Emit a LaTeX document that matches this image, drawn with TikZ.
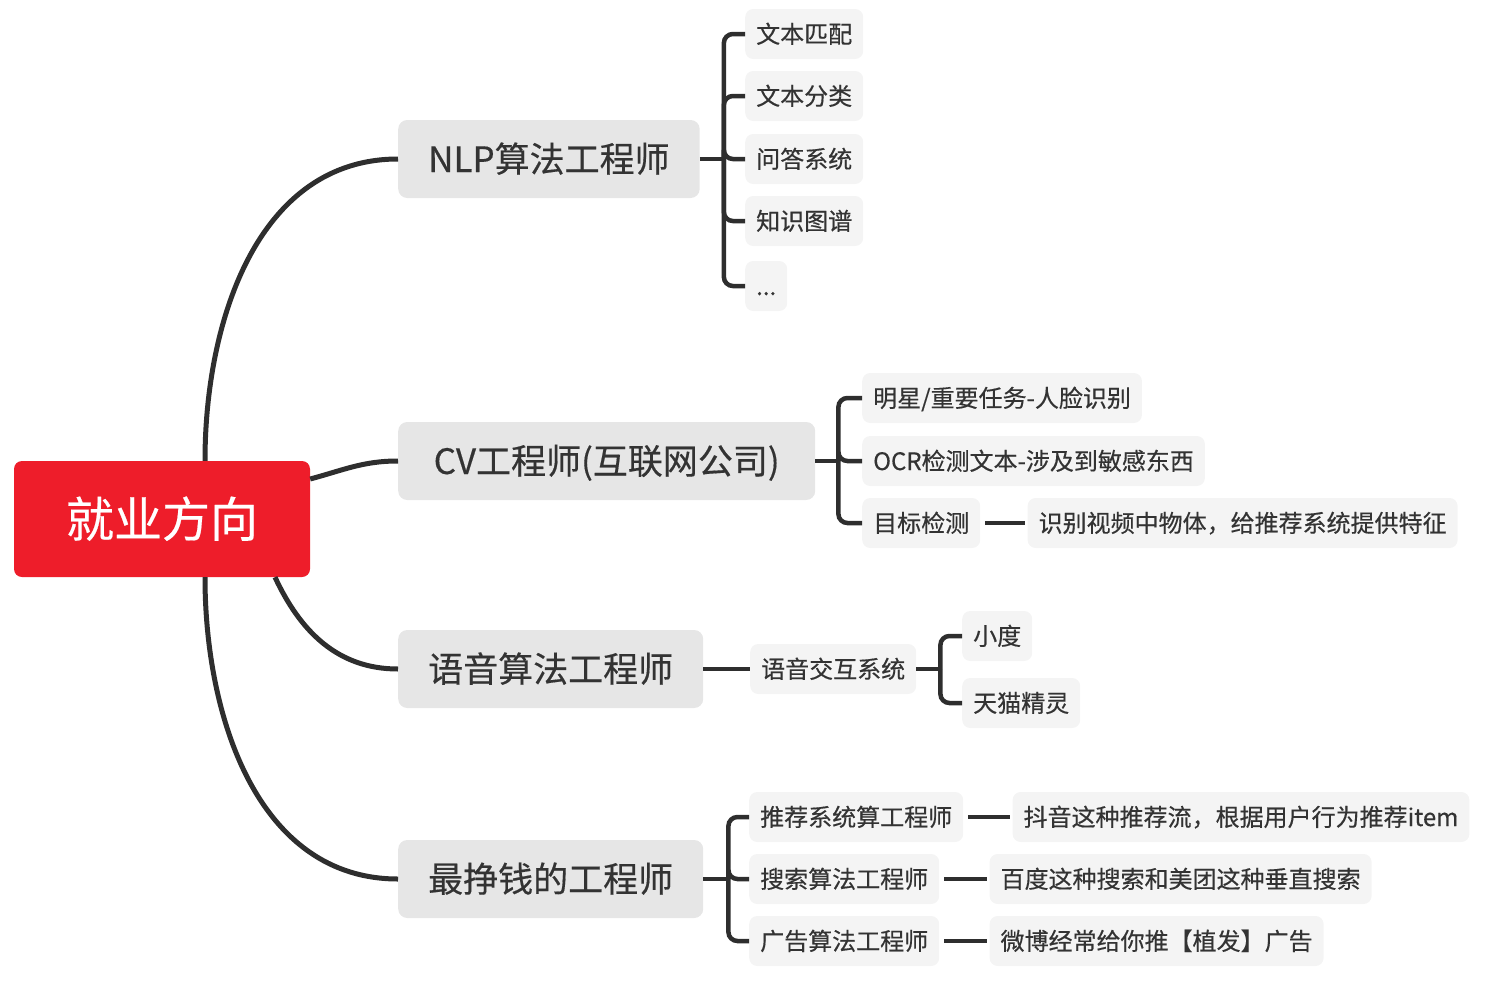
\documentclass[tikz,border=0pt]{standalone}
\usepackage{fontspec}
\setmainfont{Noto Sans CJK SC}[FakeBold=0.4]
\usetikzlibrary{positioning, calc}

\definecolor{rootred}{HTML}{EE1D2A}
\definecolor{mainbox}{HTML}{E6E6E6}
\definecolor{subbox}{HTML}{F4F4F4}
\definecolor{ink}{HTML}{333333}
\definecolor{wire}{HTML}{2E2E2E}

\begin{document}
\begin{tikzpicture}[x=1pt, y=-1pt,
    rootnode/.style={fill=rootred, text=white, rounded corners=8pt, minimum width=296pt, minimum height=116pt,
        text height=42pt, text depth=6pt, font=\fontsize{48}{56}\selectfont},
    mainnode/.style={fill=mainbox, text=ink, rounded corners=9pt, anchor=west, minimum height=78pt, inner xsep=30pt,
        text height=30pt, text depth=4pt, font=\fontsize{35}{42}\selectfont},
    subnode/.style={fill=subbox, text=ink, rounded corners=8pt, anchor=west, minimum height=50pt, inner xsep=11pt,
        text height=21pt, text depth=3pt, font=\fontsize{24}{28}\selectfont},
    trunk/.style={draw=wire, line width=5pt},
    brace/.style={draw=wire, line width=4.5pt, rounded corners=9pt}]
    \useasboundingbox (0,0) rectangle (1505,988);

    % root and the four main branches
    \node[rootnode] (root) at (162,519) {就业方向};
    \node[mainnode] (nlp) at (398,159) {NLP算法工程师};
    \node[mainnode, minimum width=417pt] (cv) at (398,461) {CV工程师(互联网公司)};
    \node[mainnode] (voice) at (398,669) {语音算法工程师};
    \node[mainnode] (money) at (398,879) {最挣钱的工程师};

    \draw[trunk] ([xshift=43pt]root.north) to[out=90, in=180] (nlp.west);
    \draw[trunk] ([yshift=40pt]root.east) to[out=15, in=180] (cv.west);
    \draw[trunk] ([xshift=113pt]root.south) to[out=-65, in=180] (voice.west);
    \draw[trunk] ([xshift=43pt]root.south) to[out=-90, in=180] (money.west);

    % NLP
    \node[subnode] (n1) at (745,34) {文本匹配};
    \node[subnode] (n2) at (745,96) {文本分类};
    \node[subnode] (n3) at (745,159) {问答系统};
    \node[subnode] (n4) at (745,221) {知识图谱};
    \node[subnode] (n5) at (745,286) {...};
    \coordinate (nlpj) at ($(nlp.east)+(24,0)$);
    \draw[brace] (nlp.east) -- (nlpj);
    \foreach \leaf in {n1,n2,n3,n4,n5}
        \draw[brace] (nlpj) |- (\leaf.west);

    % CV
    \node[subnode] (face) at (862,398) {明星/重要任务-人脸识别};
    \node[subnode] (ocr) at (862,461) {OCR检测文本-涉及到敏感东西};
    \node[subnode] (det) at (862,523) {目标检测};
    \node[subnode, right=47pt of det] (detd) {识别视频中物体，给推荐系统提供特征};
    \coordinate (cvj) at ($(cv.east)+(23,0)$);
    \draw[brace] (cv.east) -- (cvj);
    \foreach \leaf in {face,ocr,det}
        \draw[brace] (cvj) |- (\leaf.west);
    \draw[brace, shorten <=5pt, shorten >=2pt] (det) -- (detd);

    % voice
    \node[subnode] (vsys) at (750,669) {语音交互系统};
    \node[subnode] (xiaodu) at (962,636) {小度};
    \node[subnode] (tmall) at (962,703) {天猫精灵};
    \draw[brace] (voice.east) -- (vsys.west);
    \coordinate (vj) at ($(vsys.east)+(24,0)$);
    \draw[brace] (vsys.east) -- (vj);
    \foreach \leaf in {xiaodu,tmall}
        \draw[brace] (vj) |- (\leaf.west);

    % best paid
    \node[subnode] (rec) at (749,817) {推荐系统算工程师};
    \node[subnode] (search) at (749,879) {搜索算法工程师};
    \node[subnode] (ad) at (749,941) {广告算法工程师};
    \node[subnode, right=49pt of rec] (recd) {抖音这种推荐流，根据用户行为推荐item};
    \node[subnode, right=50pt of search] (searchd) {百度这种搜索和美团这种垂直搜索};
    \node[subnode, right=50pt of ad] (add) {微博经常给你推【植发】广告};
    \coordinate (mj) at ($(money.east)+(25,0)$);
    \draw[brace] (money.east) -- (mj);
    \foreach \leaf in {rec,search,ad}
        \draw[brace] (mj) |- (\leaf.west);
    \foreach \a/\b in {rec/recd,search/searchd,ad/add}
        \draw[brace, shorten <=5pt, shorten >=2pt] (\a) -- (\b);
\end{tikzpicture}
\end{document}
